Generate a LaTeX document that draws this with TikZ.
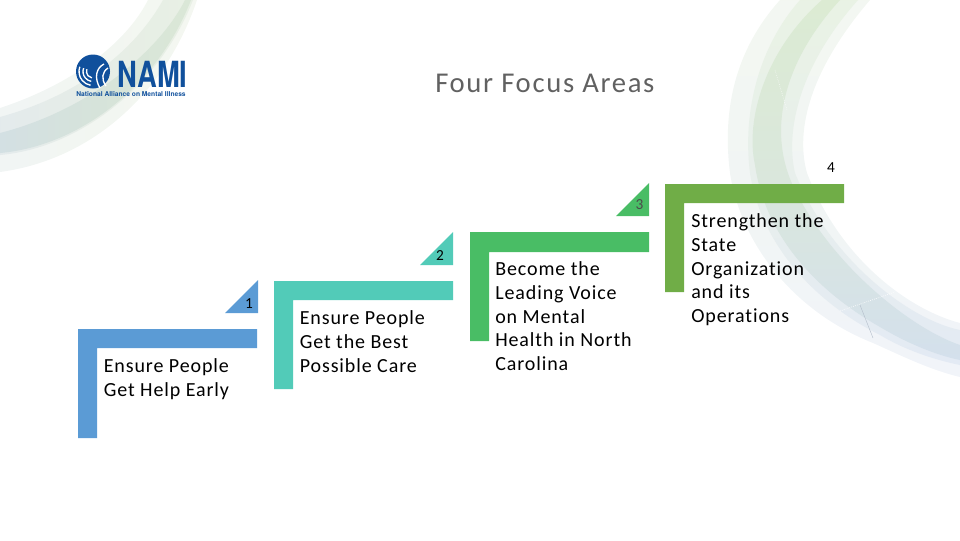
\documentclass[tikz,border=0pt]{standalone}
\usepackage{fontspec}
\setmainfont{Carlito}[Ligatures=NoCommon]
\newfontfamily\titlefont[LetterSpace=5.8,Ligatures=NoCommon]{Carlito}
\newfontfamily\stepfont[LetterSpace=4.5,Ligatures=NoCommon]{Carlito}
\newfontfamily\logofont{TeX Gyre Heros}
\definecolor{cA}{HTML}{5B9BD5}
\definecolor{cB}{HTML}{52CBB8}
\definecolor{cC}{HTML}{49BD65}
\definecolor{cD}{HTML}{70AD47}
\definecolor{logoblue}{HTML}{10509C}
\definecolor{rOa}{HTML}{FFFFFF}\definecolor{rOb}{HTML}{F1F4FA}\definecolor{rOc}{HTML}{F1F5F4}\definecolor{rOd}{HTML}{F4F8F1}\definecolor{rOe}{HTML}{FDFEFC}
\definecolor{rMa}{HTML}{F6F8FC}\definecolor{rMb}{HTML}{E3EAF4}\definecolor{rMc}{HTML}{E8EFEC}\definecolor{rMd}{HTML}{E9F3E3}\definecolor{rMe}{HTML}{FAFCF8}
\definecolor{rCa}{HTML}{EEF2FA}\definecolor{rCb}{HTML}{D3DFEE}\definecolor{rCc}{HTML}{DAE7DC}\definecolor{rCd}{HTML}{DCECD1}\definecolor{rCe}{HTML}{F8FBF5}
\definecolor{lOa}{HTML}{F0F4F8}\definecolor{lOb}{HTML}{F2F6F1}\definecolor{lOc}{HTML}{F6F9F2}
\definecolor{lMa}{HTML}{E1E8F3}\definecolor{lMb}{HTML}{E6EDE6}\definecolor{lMc}{HTML}{EAF3E3}
\definecolor{lCa}{HTML}{D0DCEC}\definecolor{lCb}{HTML}{D6E3DA}\definecolor{lCc}{HTML}{DFECD3}
\pgfdeclareverticalshading{rOuter}{100bp}{color(0bp)=(rOa); color(20bp)=(rOb); color(50bp)=(rOc); color(80bp)=(rOd); color(100bp)=(rOe)}
\pgfdeclareverticalshading{rMid}{100bp}{color(0bp)=(rMa); color(25bp)=(rMb); color(50bp)=(rMc); color(80bp)=(rMd); color(100bp)=(rMe)}
\pgfdeclareverticalshading{rCore}{100bp}{color(0bp)=(rCa); color(22bp)=(rCb); color(50bp)=(rCc); color(80bp)=(rCd); color(100bp)=(rCe)}
\pgfdeclarehorizontalshading{lOuter}{100bp}{color(0bp)=(lOa); color(50bp)=(lOb); color(100bp)=(lOc)}
\pgfdeclarehorizontalshading{lMid}{100bp}{color(0bp)=(lMa); color(50bp)=(lMb); color(100bp)=(lMc)}
\pgfdeclarehorizontalshading{lCore}{100bp}{color(0bp)=(lCa); color(50bp)=(lCb); color(100bp)=(lCc)}
\tikzset{
  steptext/.style={font=\stepfont\fontsize{15}{17.8}\selectfont,text=black,anchor=north west,inner sep=0pt,align=left},
  stepnum/.style={font=\fontsize{11.5}{13}\selectfont,text=black,anchor=base,inner sep=0pt},
}
\begin{document}
\begin{tikzpicture}[x=0.75pt,y=-0.75pt]
\useasboundingbox (0,0) rectangle (960,540);
% left swoosh
\shade[shading=lOuter] (148,0) .. controls (125,45) and (70,85) .. (0,108) -- (0,172) .. controls (90,160) and (165,95) .. (197,0) -- cycle;
\shade[shading=lMid] (163,0) .. controls (135,50) and (80,95) .. (0,117) -- (0,155) .. controls (80,148) and (160,85) .. (193,0) -- cycle;
\shade[shading=lCore] (185,0) .. controls (160,50) and (90,110) .. (0,133) -- (0,153) .. controls (80,146) and (158,85) .. (191,0) -- cycle;
% right swoosh
\shade[shading=rOuter] (780,0) .. controls (735,50) and (722,110) .. (730,173) .. controls (740,240) and (790,310) .. (873,343) .. controls (900,355) and (930,370) .. (960,377) -- (960,323) .. controls (910,310) and (840,260) .. (807,173) .. controls (795,130) and (810,70) .. (870,0) -- cycle;
\shade[shading=rMid] (800,0) .. controls (760,45) and (742,110) .. (750,173) .. controls (760,240) and (810,300) .. (880,335) .. controls (905,350) and (935,360) .. (960,365) -- (960,330) .. controls (910,320) and (830,260) .. (795,173) .. controls (785,130) and (800,65) .. (858,0) -- cycle;
\shade[shading=rCore] (822,0) .. controls (765,50) and (745,120) .. (755,165) .. controls (765,235) and (815,290) .. (880,327) .. controls (905,342) and (935,355) .. (960,360) -- (960,345) .. controls (915,330) and (835,270) .. (795,190) .. controls (765,130) and (785,60) .. (840,0) -- cycle;
\draw[white,densely dotted,line width=0.5pt] (840,311) -- (895,292);
\draw[white,densely dotted,line width=0.4pt] (775,70) -- (787,110);
\draw[rCb!85!black,line width=0.3pt] (860,305) -- (873,338);
% logo
\fill[logoblue] (93,71.5) circle (17);
\foreach \r in {14,10,6.5}{
  \draw[white,line width=1pt] (93,71.5) ++(200:\r) arc (200:100:\r);
}
\draw[white,line width=1pt] (100,88) .. controls (94,78) and (96,68) .. (104,64);
\draw[white,line width=1pt] (106,86) .. controls (101,79) and (102,72) .. (108,68);
\node[inner sep=0pt,anchor=base west,text=logoblue,font=\logofont\bfseries\fontsize{27}{27}\selectfont,xscale=0.76] (logoname) at (117.5,87) {NAMI};
\node[inner sep=0pt,anchor=base west,text=logoblue,font=\logofont\bfseries\fontsize{5}{5}\selectfont] (logosub) at (76,96.5) {National Alliance on Mental Illness};
% title
\node[inner sep=0pt,anchor=base west,text=black!62,font=\titlefont\fontsize{21.5}{24}\selectfont] (title) at (435,92) {Four Focus Areas};
% steps
\fill[cA] (78,329) -- (257,329) -- (257,348) -- (97,348) -- (97,438) -- (78,438) -- cycle;
\fill[cB] (274,281) -- (453,281) -- (453,300) -- (293,300) -- (293,389) -- (274,389) -- cycle;
\fill[cC] (470,232) -- (649,232) -- (649,252) -- (489,252) -- (489,341) -- (470,341) -- cycle;
\fill[cD] (665,184) -- (844,184) -- (844,203) -- (684,203) -- (684,292) -- (665,292) -- cycle;
\fill[cA] (258,280) -- (258,313) -- (225,313) -- cycle;
\fill[cB] (453,232) -- (453,265) -- (420,265) -- cycle;
\fill[cC] (649,183) -- (649,216) -- (616,216) -- cycle;
\node[stepnum] (n1) at (249,308) {1};
\node[stepnum] (n2) at (440,260) {2};
\node[stepnum,text=black!70] (n3) at (639.5,209) {3};
\node[stepnum] (n4) at (831,172) {4};
\node[steptext] (t1) at (103.5,358.5) {Ensure People\\Get Help Early};
\node[steptext] (t2) at (299.5,310.5) {Ensure People\\Get the Best\\Possible Care};
\node[steptext] (t3) at (495,261.5) {Become the\\Leading Voice\\on Mental\\Health in North\\Carolina};
\node[steptext] (t4) at (691,213.5) {Strengthen the\\State\\Organization\\and its\\Operations};
\end{tikzpicture}
\end{document}
